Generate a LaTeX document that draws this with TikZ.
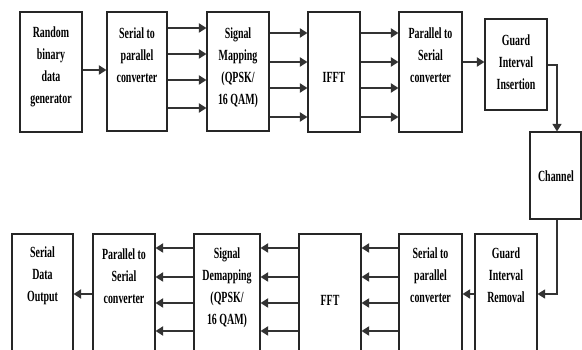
\documentclass[tikz,border=0pt]{standalone}
\usepackage{fontspec}
\setmainfont{Liberation Serif}[FakeStretch=0.64]
\usetikzlibrary{arrows.meta}
\begin{document}
\begin{tikzpicture}[x=1pt,y=-1pt,
  box/.style={draw=black!85,line width=1.1pt,inner sep=0pt},
  txt/.style={align=center,inner sep=0pt,font=\fontsize{15.5}{22}\selectfont\bfseries},
  arr/.style={draw=black!80,line width=1.8pt,-{Triangle[length=7.5pt,width=9pt]}}]
\clip (0,0) rectangle (582,350);
% top row boxes
\node[box,minimum width=62pt,minimum height=120pt] (A) at (51,72) {};
\node[txt] (At) at (51,67) {Random\\binary\\data\\generator};
\node[box,minimum width=60pt,minimum height=119pt] (B) at (137,71.5) {};
\node[txt] (Bt) at (137,55) {Serial to\\parallel\\converter};
\node[box,minimum width=62pt,minimum height=119pt] (C) at (238,71.5) {};
\node[txt] (Ct) at (238,68) {Signal\\Mapping\\(QPSK/\\16 QAM)};
\node[box,minimum width=52pt,minimum height=120pt] (D) at (334,72) {};
\node[txt] (Dt) at (334,77) {IFFT};
\node[box,minimum width=63pt,minimum height=120pt] (E) at (430.5,72) {};
\node[txt] (Et) at (430.5,55) {Parallel to\\Serial\\converter};
\node[box,minimum width=62pt,minimum height=91pt] (F) at (516,64.5) {};
\node[txt] (Ft) at (516,62) {Guard\\Interval\\Insertion};
\node[box,minimum width=51pt,minimum height=87pt] (G) at (555.5,175.5) {};
\node[txt] (Gt) at (556,176) {Channel};
% bottom row boxes
\node[box,minimum width=61pt,minimum height=120pt] (H) at (42.5,294) {};
\node[txt] (Ht) at (42.5,276) {Serial\\Data\\Output};
\node[box,minimum width=62pt,minimum height=120pt] (I) at (124,294) {};
\node[txt] (It) at (124,276) {Parallel to\\Serial\\converter};
\node[box,minimum width=66pt,minimum height=120pt] (J) at (227,294) {};
\node[txt] (Jt) at (227,288) {Signal\\Demapping\\(QPSK/\\16 QAM)};
\node[box,minimum width=62pt,minimum height=120pt] (K) at (330,294) {};
\node[txt] (Kt) at (330,300) {FFT};
\node[box,minimum width=63pt,minimum height=120pt] (L) at (430.5,294) {};
\node[txt] (Lt) at (430.5,275) {Serial to\\parallel\\converter};
\node[box,minimum width=62pt,minimum height=120pt] (M) at (506,294) {};
\node[txt] (Mt) at (506,275) {Guard\\Interval\\Removal};
% top row connectors
\draw[arr] (A.east |- 0,70) -- (B.west |- 0,70);
\foreach \yy in {28,54,80,108}
  \draw[arr] (B.east |- 0,\yy) -- (C.west |- 0,\yy);
\foreach \yy in {33,62,88,117}{
  \draw[arr] (C.east |- 0,\yy) -- (D.west |- 0,\yy);
  \draw[arr] (D.east |- 0,\yy) -- (E.west |- 0,\yy);}
\draw[arr] (E.east |- 0,62) -- (F.west |- 0,62);
\draw[arr,line width=1.2pt] (F.east |- 0,65) -| (G.north -| 557,0);
\draw[arr,line width=1.2pt] (G.south -| 557,0) |- (M.east |- 0,294);
% bottom row connectors
\draw[arr] (M.west |- 0,294) -- (L.east |- 0,294);
\foreach \yy in {248,277,303,331}{
  \draw[arr] (L.west |- 0,\yy) -- (K.east |- 0,\yy);
  \draw[arr] (K.west |- 0,\yy) -- (J.east |- 0,\yy);
  \draw[arr] (J.west |- 0,\yy) -- (I.east |- 0,\yy);}
\draw[arr] (I.west |- 0,294) -- (H.east |- 0,294);
\end{tikzpicture}
\end{document}
